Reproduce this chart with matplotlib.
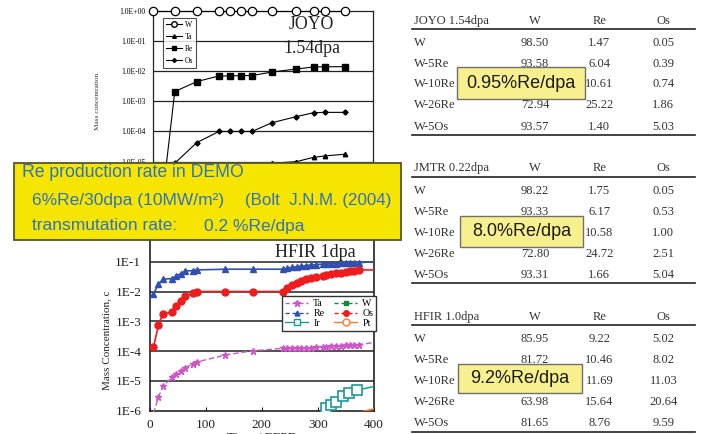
import matplotlib
matplotlib.use('Agg')
import matplotlib.pyplot as plt
from matplotlib.patches import Rectangle
from matplotlib.lines import Line2D
from matplotlib.ticker import FixedLocator, FixedFormatter, NullLocator

W_PX, H_PX = 707, 434
SERIF = 'Liberation Serif'
SANS = 'Liberation Sans'

# ---------------- JOYO chart data (time axis hidden, relative units) ----------------
joyo_t = [0, 10, 20, 30, 35, 40, 45, 54, 65, 73, 78, 87]
joyo_W = [1.0, 1.0, 1.0, 1.0, 1.0, 1.0, 1.0, 1.0, 1.0, 1.0, 1.0, 1.0]
joyo_Ta = [1e-9, 5e-7, 2e-6, 4e-6, 4.5e-6, 5e-6, 5.5e-6, 8.9e-6, 1.0e-5, 1.4e-5, 1.55e-5, 1.77e-5]
joyo_Re = [1e-9, 2.1e-3, 4.5e-3, 6.9e-3, 6.9e-3, 7.1e-3, 7.1e-3, 9.3e-3, 1.17e-2, 1.37e-2, 1.39e-2, 1.4e-2]
joyo_Os = [1e-9, 8.9e-6, 4.3e-5, 1.0e-4, 1.0e-4, 1.0e-4, 1.0e-4, 1.95e-4, 3.1e-4, 4.2e-4, 4.3e-4, 4.3e-4]
joyo_yticks = [1e-5, 1e-4, 1e-3, 1e-2, 1e-1, 1e0]
joyo_ylabels = ['1.0E-05', '1.0E-04', '1.0E-03', '1.0E-02', '1.0E-01', '1.0E+00']
joyo_grid = [1e-6, 1e-5, 1e-4, 1e-3, 1e-2, 1e-1]

# ---------------- HFIR chart data (EFPD) ----------------
hfir_t = [7, 16, 24, 40, 47, 56, 63, 78, 84, 135, 184, 238, 245, 254, 263, 270, 279,
          288, 296, 309, 314, 323, 333, 341, 351, 358, 364, 374, 400]
hfir_Re = [8.3e-3, 1.74e-2, 2.6e-2, 2.7e-2, 3.3e-2, 4.0e-2, 4.9e-2, 5.0e-2, 5.3e-2, 5.6e-2,
           5.6e-2, 5.6e-2, 6.0e-2, 6.5e-2, 6.8e-2, 7.0e-2, 7.4e-2, 7.8e-2, 8.0e-2, 8.3e-2,
           8.5e-2, 8.7e-2, 8.7e-2, 8.8e-2, 9.0e-2, 9.0e-2, 9.1e-2, 9.3e-2, 1.0e-1]
hfir_Os = [1.35e-4, 7.4e-4, 1.8e-3, 2.0e-3, 3.2e-3, 4.9e-3, 7.0e-3, 8.7e-3, 1.0e-2, 1.0e-2,
           1.0e-2, 1.0e-2, 1.28e-2, 1.65e-2, 2.0e-2, 2.3e-2, 2.6e-2, 2.9e-2, 3.1e-2, 3.4e-2,
           3.7e-2, 4.0e-2, 4.1e-2, 4.3e-2, 4.5e-2, 4.9e-2, 4.95e-2, 5.3e-2, 5.3e-2]
hfir_Ta = [8e-7, 2.9e-6, 6.5e-6, 1.32e-5, 1.66e-5, 2.2e-5, 2.75e-5, 3.7e-5, 4.3e-5, 7.4e-5,
           1.03e-4, 1.23e-4, 1.23e-4, 1.23e-4, 1.24e-4, 1.27e-4, 1.3e-4, 1.3e-4, 1.33e-4, 1.4e-4,
           1.42e-4, 1.47e-4, 1.48e-4, 1.5e-4, 1.55e-4, 1.6e-4, 1.62e-4, 1.65e-4, 1.95e-4]
hfir_Ir_t = [300, 315, 323, 333, 345, 355, 370, 400]
hfir_Ir = [6e-7, 1.2e-6, 1.55e-6, 2.0e-6, 3.1e-6, 3.8e-6, 4.9e-6, 6.5e-6]
hfir_Pt_t = [366, 385, 400]
hfir_Pt = [8e-7, 1.0e-6, 1.15e-6]
hfir_yticks = [1e-6, 1e-5, 1e-4, 1e-3, 1e-2, 1e-1]
hfir_ylabels = ['1E-6', '1E-5', '1E-4', '1E-3', '1E-2', '1E-1']
hfir_xticks = [0, 100, 200, 300, 400]

# ---------------- Tables ----------------
table_rows = ['W', 'W-5Re', 'W-10Re', 'W-26Re', 'W-5Os']
table_cols = ['W', 'Re', 'Os']
joyo_tab_W = ['98.50', '93.58', None, '72.94', '93.57']
joyo_tab_Re = ['1.47', '6.04', '10.61', '25.22', '1.40']
joyo_tab_Os = ['0.05', '0.39', '0.74', '1.86', '5.03']
jmtr_tab_W = ['98.22', '93.33', None, '72.80', '93.31']
jmtr_tab_Re = ['1.75', '6.17', '10.58', '24.72', '1.66']
jmtr_tab_Os = ['0.05', '0.53', '1.00', '2.51', '5.04']
hfir_tab_W = ['85.95', '81.72', None, '63.98', '81.65']
hfir_tab_Re = ['9.22', '10.46', '11.69', '15.64', '8.76']
hfir_tab_Os = ['5.02', '8.02', '11.03', '20.64', '9.59']
table_titles = ['JOYO 1.54dpa', 'JMTR 0.22dpa', 'HFIR 1.0dpa']
rate_labels = ['0.95%Re/dpa', '8.0%Re/dpa', '9.2%Re/dpa']

fig = plt.figure(figsize=(W_PX / 100, H_PX / 100), dpi=100)
fig.patch.set_facecolor('white')


def rect(l, t, r, b):
    return [l / W_PX, 1 - b / H_PX, (r - l) / W_PX, (b - t) / H_PX]


# ---------------- JOYO chart ----------------
ax1 = fig.add_axes(rect(152.7, 10.7, 373.3, 222.1))
ax1.set_yscale('log')
ax1.set_ylim(1e-7, 1)
ax1.set_xlim(0, 100)
for v in joyo_grid:
    ax1.axhline(v, color='#222222', lw=0.9, zorder=1)
ax1.plot(joyo_t, joyo_Ta, color='black', lw=0.8, marker='^', ms=3.2, mfc='black', mec='black', zorder=3)
ax1.plot(joyo_t, joyo_Re, color='black', lw=0.8, marker='s', ms=4.2, mfc='black', mec='black', zorder=3)
ax1.plot(joyo_t, joyo_Os, color='black', lw=0.8, marker='D', ms=2.6, mfc='black', mec='black', zorder=3)
ax1.plot(joyo_t, joyo_W, color='black', lw=0.8, marker='o', ms=6, mfc='white', mec='black',
         mew=0.9, zorder=4, clip_on=False)
ax1.yaxis.set_major_locator(FixedLocator(joyo_yticks))
ax1.yaxis.set_major_formatter(FixedFormatter(joyo_ylabels))
ax1.yaxis.set_minor_locator(NullLocator())
ax1.tick_params(axis='y', length=0, pad=5, labelsize=5.5)
for lab in ax1.get_yticklabels():
    lab.set_fontfamily(SERIF)
ax1.set_xticks([])
for s in ax1.spines.values():
    s.set_color('#222222')
    s.set_linewidth(0.9)
ax1.text(-0.25, 0.57, 'Mass concentration', transform=ax1.transAxes, rotation=90,
         ha='center', va='center', fontsize=5.2, family=SERIF, color='#333333')
ax1.text(72.0, 0.34, 'JOYO', fontsize=12.8, family=SERIF, ha='center', va='center',
         color='#222222')
ax1.text(72.0, 0.056, '1.54dpa', fontsize=12.8, family=SERIF, ha='center', va='center',
         color='#222222')
h_joyo = [Line2D([], [], color='black', lw=0.8, marker='o', ms=4, mfc='white', mec='black'),
          Line2D([], [], color='black', lw=0.8, marker='^', ms=2.6, mfc='black'),
          Line2D([], [], color='black', lw=0.8, marker='s', ms=2.8, mfc='black'),
          Line2D([], [], color='black', lw=0.8, marker='D', ms=2.0, mfc='black')]
leg1 = ax1.legend(h_joyo, ['W', 'Ta', 'Re', 'Os'], loc='upper left',
                  bbox_to_anchor=(0.048, 0.965), prop={'family': SERIF, 'size': 5.5},
                  frameon=True, fancybox=False, edgecolor='#222222', handlelength=2.0,
                  handletextpad=0.4, borderpad=0.4, labelspacing=0.5, borderaxespad=0)
leg1.get_frame().set_linewidth(0.8)

# ---------------- HFIR chart ----------------
ax2 = fig.add_axes(rect(149.5, 231.9, 374.0, 410.7))
ax2.set_yscale('log')
ax2.set_ylim(1e-6, 1)
ax2.set_xlim(0, 400)
for v in hfir_yticks[1:]:
    ax2.axhline(v, color='#222222', lw=1.1, zorder=1)
c_Ta, c_Re, c_Ir, c_W, c_Os, c_Pt = '#cc55c8', '#2f50b0', '#1a9a9a', '#18883a', '#ee1c1c', '#ff7a2a'
mk = slice(0, -1)
ax2.plot(hfir_t, hfir_Ta, color=c_Ta, lw=1.0, ls=(0, (4, 2)), marker='*', ms=4.5, mec=c_Ta,
         mfc=c_Ta, markevery=mk, zorder=3)
ax2.plot(hfir_t, hfir_Re, color=c_Re, lw=1.2, marker='^', ms=4.5, mec=c_Re, mfc=c_Re,
         markevery=mk, zorder=3)
ax2.plot(hfir_t, hfir_Os, color=c_Os, lw=1.2, marker='o', ms=5.0, mec=c_Os, mfc=c_Os,
         markevery=mk, zorder=3)
ax2.plot(hfir_Ir_t, hfir_Ir, color=c_Ir, lw=1.1, marker='s', ms=6.5, mec=c_Ir, mfc='white',
         mew=1.2, markevery=slice(1, -1), zorder=3)
ax2.plot(hfir_Pt_t, hfir_Pt, color=c_Pt, lw=1.1, zorder=3)
ax2.yaxis.set_major_locator(FixedLocator(hfir_yticks))
ax2.yaxis.set_major_formatter(FixedFormatter(hfir_ylabels))
ax2.yaxis.set_minor_locator(NullLocator())
ax2.set_xticks(hfir_xticks)
ax2.tick_params(axis='y', length=0, pad=6, labelsize=9.5, colors='#222222')
ax2.tick_params(axis='x', direction='in', length=3, pad=6, labelsize=9.5, colors='#222222')
for lab in ax2.get_yticklabels() + ax2.get_xticklabels():
    lab.set_fontfamily(SERIF)
for s in ax2.spines.values():
    s.set_color('#222222')
    s.set_linewidth(1.2)
ax2.set_ylabel('Mass Concentration, c', fontsize=8, family=SERIF, color='#222222', labelpad=3)
ax2.yaxis.label.set_y(0.395)
ax2.text(0.5, -0.118, 'Time / EFPD', transform=ax2.transAxes, ha='center', va='top',
         fontsize=9.5, family=SERIF, color='#222222')
ax2.text(368, 0.21, 'HFIR 1dpa', fontsize=13, family=SERIF, ha='right', va='center',
         color='#222222')
h_hfir = [Line2D([], [], color=c_Ta, lw=1.0, ls=(0, (3, 2)), marker='*', ms=4.5, mfc=c_Ta, mec=c_Ta),
          Line2D([], [], color=c_Re, lw=1.0, ls=(0, (3, 2)), marker='^', ms=3.5, mfc=c_Re, mec=c_Re),
          Line2D([], [], color=c_Ir, lw=1.0, marker='s', ms=5, mfc='white', mec=c_Ir),
          Line2D([], [], color=c_W, lw=1.0, ls=(0, (3, 2)), marker='s', ms=3.5, mfc=c_W, mec=c_W),
          Line2D([], [], color=c_Os, lw=1.0, ls=(0, (3, 2)), marker='o', ms=4, mfc=c_Os, mec=c_Os),
          Line2D([], [], color=c_Pt, lw=1.0, marker='o', ms=5, mfc='white', mec=c_Pt)]
leg2 = ax2.legend(h_hfir, ['Ta', 'Re', 'Ir', 'W', 'Os', 'Pt'], ncol=2, loc='upper right',
                  bbox_to_anchor=(1.011, 0.64), prop={'family': SERIF, 'size': 7.2},
                  frameon=True, fancybox=False, edgecolor='#333333', framealpha=1,
                  handlelength=2.3, handletextpad=0.5, columnspacing=1.0, borderpad=0.3,
                  labelspacing=0.08, borderaxespad=0)
leg2.get_frame().set_linewidth(1.0)

# ---------------- Overlay: tables and annotation boxes ----------------
ov = fig.add_axes([0, 0, 1, 1])
ov.set_xlim(0, W_PX)
ov.set_ylim(H_PX, 0)
ov.axis('off')

col_x = [535, 599.3, 663.3]
tables = [
    (20.0, 29.3, [41.7, 62.7, 83.3, 104.0, 126.0], 135.0, joyo_tab_W, joyo_tab_Re, joyo_tab_Os,
     (456.7, 66.7, 585.0, 99.3)),
    (167.3, 177.3, [190.0, 211.0, 231.7, 252.7, 274.3], 283.3, jmtr_tab_W, jmtr_tab_Re, jmtr_tab_Os,
     (460.0, 216.0, 583.3, 246.7)),
    (316.0, 325.3, [338.3, 359.3, 380.0, 400.7, 422.3], 431.7, hfir_tab_W, hfir_tab_Re, hfir_tab_Os,
     (458.3, 364.0, 581.7, 392.7)),
]
tcol = '#333333'
for k, (hy, ly, rys, by, cW, cRe, cOs, box) in enumerate(tables):
    ov.text(414, hy + 4, table_titles[k], family=SERIF, fontsize=9, color=tcol, va='baseline', ha='left')
    for j, c in enumerate(table_cols):
        ov.text(col_x[j], hy + 4, c, family=SERIF, fontsize=9, color=tcol, va='baseline', ha='center')
    ov.plot([411.7, 695], [ly, ly], color='#222222', lw=1.2)
    ov.plot([411.7, 695], [by, by], color='#222222', lw=1.2)
    for i, r in enumerate(table_rows):
        y = rys[i] + 4
        ov.text(414, y, r, family=SERIF, fontsize=9, color=tcol, va='baseline', ha='left')
        for j, colvals in enumerate([cW, cRe, cOs]):
            if colvals[i] is not None:
                ov.text(col_x[j], y, colvals[i], family=SERIF, fontsize=9, color=tcol,
                        va='baseline', ha='center')
    x0, y0, x1, y1 = box
    ov.add_patch(Rectangle((x0, y0), x1 - x0, y1 - y0, facecolor='#f8f08e', edgecolor='#707070',
                           lw=1.0, zorder=5))
    ov.text((x0 + x1) / 2, (y0 + y1) / 2 + 0.5, rate_labels[k], family=SANS, fontsize=13,
            color='#1a1a1a', ha='center', va='center', zorder=6)

# big yellow box
ov.add_patch(Rectangle((14, 163.3), 387, 76.7, facecolor='#f5e500', edgecolor='#55552a',
                       lw=1.3, zorder=7))
blue = '#2f72c0'
ov.text(22, 172.7, 'Re production rate in DEMO', family=SANS, fontsize=12.7, color=blue,
        ha='left', va='center', zorder=8)
ov.text(31.7, 200, '6%Re/30dpa (10MW/m²)', family=SANS, fontsize=12.5, color=blue,
        ha='left', va='center', zorder=8)
ov.text(245, 200, '(Bolt  J.N.M. (2004)', family=SANS, fontsize=12.2, color=blue,
        ha='left', va='center', zorder=8)
ov.text(31.7, 226, 'transmutation rate:', family=SANS, fontsize=12.5, color=blue,
        ha='left', va='center', zorder=8)
ov.text(204, 226, '0.2 %Re/dpa', family=SANS, fontsize=12.5, color=blue,
        ha='left', va='center', zorder=8)

fig.savefig('out.png', dpi=100)
